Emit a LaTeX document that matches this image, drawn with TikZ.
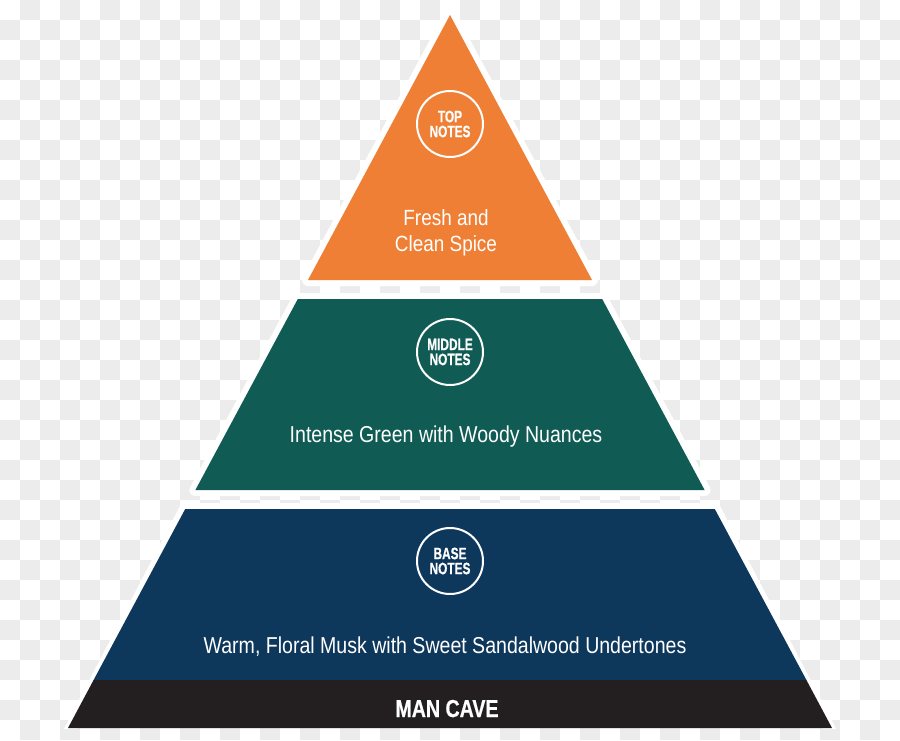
\documentclass[tikz,border=0pt]{standalone}
\usepackage{fontspec}
\newfontfamily\condreg[FakeStretch=0.85]{Liberation Sans}
\newfontfamily\freshreg[FakeStretch=0.86]{Liberation Sans}
\newfontfamily\condbold[FakeStretch=0.80,FakeBold=0.6]{Liberation Sans Bold}
\newfontfamily\circbold[FakeStretch=0.72,FakeBold=0.5]{Liberation Sans Bold}
\definecolor{orangeL}{RGB}{238,127,53}
\definecolor{greenL}{RGB}{16,92,85}
\definecolor{blueL}{RGB}{14,55,92}
\definecolor{blackL}{RGB}{35,31,32}
\definecolor{checkerL}{RGB}{236,236,236}
\begin{document}
\begin{tikzpicture}[x=1pt,y=-1pt,
  outlinew/.style={white, line width=12pt, line join=round},
  badge/.style={circle, draw=white, line width=2pt, minimum size=66pt, inner sep=0pt,
    text=white, align=center, font=\circbold\fontsize{16.5}{15}\selectfont},
  maintext/.style={text=white, inner sep=0pt, font=\condreg\fontsize{23}{24}\selectfont},
  freshtext/.style={text=white, inner sep=0pt, font=\freshreg\fontsize{22}{24}\selectfont},
  cavetext/.style={text=white, inner sep=0pt, font=\condbold\fontsize{24.5}{24}\selectfont}]
\useasboundingbox (0,0) rectangle (900,740);
\fill[white] (0,0) rectangle (900,740);
\foreach \i in {0,...,44} {
  \foreach \j in {0,...,36} {
    \pgfmathtruncatemacro{\parity}{mod(\i+\j,2)}
    \ifnum\parity=1 \fill[checkerL] ({\i*20},{\j*20}) rectangle ++(20,20); \fi
  }
}
% top layer
\draw[outlinew] (450,15) -- (308,280) -- (592,280) -- cycle;
\fill[orangeL] (450,15) -- (308,280) -- (592,280) -- cycle;
% middle layer
\draw[outlinew] (297.8,299) -- (602.2,299) -- (704.6,490) -- (195.4,490) -- cycle;
\fill[greenL] (297.8,299) -- (602.2,299) -- (704.6,490) -- (195.4,490) -- cycle;
% base layer + band
\begin{scope}
\clip (0,0) rectangle (900,728);
\draw[outlinew] (68,734) -- (185.2,509) -- (714.8,509) -- (832,734);
\end{scope}
\fill[blueL] (185.2,509) -- (714.8,509) -- (806.4,680) -- (93.6,680) -- cycle;
\fill[blackL] (93.6,680) -- (806.4,680) -- (832,728) -- (68,728) -- cycle;
% badges
\node[badge] (topb) at (450,124) {TOP\\NOTES};
\node[badge] (midb) at (450,352) {MIDDLE\\NOTES};
\node[badge] (baseb) at (450,561) {BASE\\NOTES};
% texts
\node[freshtext, anchor=base] (fresh) at (446,225.5) {Fresh and};
\node[freshtext, anchor=base] (clean) at (446,251) {Clean Spice};
\node[maintext, anchor=base] (intense) at (446,442) {Intense Green with Woody Nuances};
\node[maintext, anchor=base] (warm) at (445,653) {Warm, Floral Musk with Sweet Sandalwood Undertones};
\node[cavetext, anchor=base] (cave) at (447,717) {MAN CAVE};
\end{tikzpicture}
\end{document}
